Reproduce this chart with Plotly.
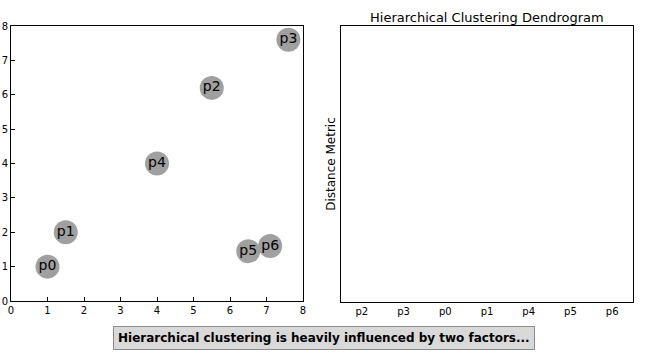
import plotly.graph_objects as go

W, H = 648, 360
names = ["p0", "p1", "p2", "p3", "p4", "p5", "p6"]
xs = [1.0, 1.5, 5.5, 7.6, 4.0, 6.5, 7.1]
ys = [1.0, 2.0, 6.2, 7.6, 4.0, 1.45, 1.6]
leaf_order = ["p2", "p3", "p0", "p1", "p4", "p5", "p6"]
ticks_0_8 = list(range(0, 9))

FONT = "DejaVu Sans"

fig = go.Figure()
fig.add_trace(go.Scatter(
    x=xs, y=ys, text=names, mode="markers+text",
    textposition="middle center",
    marker=dict(size=24, color="rgb(160,160,160)", line=dict(width=0)),
    textfont=dict(family=FONT, size=14, color="black"),
    xaxis="x", yaxis="y", showlegend=False, hoverinfo="skip",
))
leaf_pos = [5 + 10 * i for i in range(len(leaf_order))]
fig.add_trace(go.Scatter(
    x=leaf_pos, y=[0] * len(leaf_pos), mode="markers",
    marker=dict(opacity=0), xaxis="x2", yaxis="y2",
    showlegend=False, hoverinfo="skip",
))

axstyle = dict(showgrid=False, zeroline=False, showline=True, linecolor="black",
               linewidth=1, mirror=True, automargin=False,
               tickfont=dict(family=FONT, size=10, color="black"))

fig.update_layout(
    width=W, height=H,
    margin=dict(l=0, r=0, t=0, b=0, autoexpand=False),
    paper_bgcolor="white", plot_bgcolor="white",
    font=dict(family=FONT, color="black"),
    xaxis=dict(domain=[11 / W, 303 / W], range=[0, 8], tickvals=ticks_0_8,
               ticks="inside", ticklen=4, tickcolor="black", anchor="y",
               **axstyle),
    yaxis=dict(domain=[1 - 301 / H, 1 - 26 / H], range=[0, 8], tickvals=ticks_0_8,
               ticks="inside", ticklen=4, tickcolor="black", anchor="x",
               **axstyle),
    xaxis2=dict(domain=[341 / W, 633 / W], range=[0, 70], tickvals=leaf_pos,
                ticktext=leaf_order, ticks="", anchor="y2", **axstyle),
    yaxis2=dict(domain=[1 - 302 / H, 1 - 26 / H], range=[0, 1], showticklabels=False,
                ticks="", anchor="x2",
                title=dict(text="Distance Metric", font=dict(family=FONT, size=12),
                           standoff=1),
                **axstyle),
    annotations=[
        dict(text="Hierarchical Clustering Dendrogram", x=487 / W, y=1 - 17 / H,
             xref="paper", yref="paper", showarrow=False, xanchor="center",
             yanchor="middle", font=dict(family=FONT, size=13, color="black")),
        dict(text="<b>Hierarchical clustering is heavily influenced by two factors...</b>",
             x=324 / W, y=1 - 338 / H, xref="paper", yref="paper", showarrow=False,
             xanchor="center", yanchor="middle",
             font=dict(family=FONT, size=12, color="black"),
             bgcolor="rgb(217,217,217)", bordercolor="rgb(140,140,140)",
             borderwidth=1, borderpad=4),
    ],
)

fig.write_html("out.html", config={"displayModeBar": False},
               post_script="document.body.style.margin='0';")
